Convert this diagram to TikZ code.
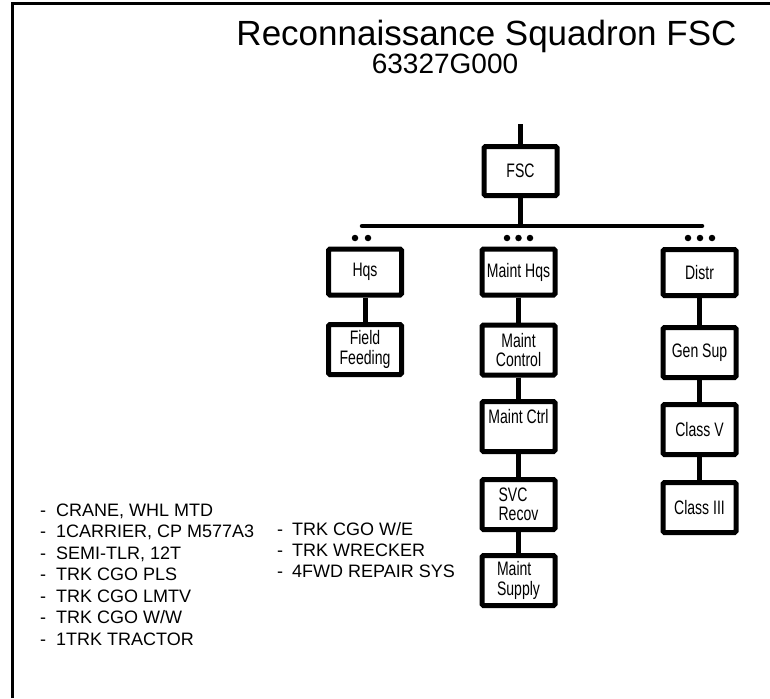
\documentclass[tikz,border=0pt]{standalone}
\usepackage{fontspec}
\setmainfont{Liberation Sans}
\newfontfamily\boxfont[FakeStretch=0.72]{Liberation Sans}
\begin{document}
\begin{tikzpicture}[x=1pt,y=-1pt,
  unit/.style={draw=black, line width=5pt, rounded corners=1.5pt,
    minimum width=73pt, minimum height=50pt, inner sep=0pt, align=center,
    font=\boxfont\fontsize{19.5}{19.5}\selectfont},
  toprow/.style={unit, minimum height=46pt},
  link/.style={line width=5pt},
  echelon/.style={circle, fill=black, minimum size=6.5pt, inner sep=0pt},
  itemtext/.style={anchor=base west, font=\fontsize{18}{21}\selectfont, inner sep=0pt}
]
\useasboundingbox (0,0) rectangle (770,698);

% page frame (top and left edges)
\draw[line width=3pt] (12.5,698) -- (12.5,3.5) -- (770,3.5);

% heading
\node[font=\fontsize{35}{40}\selectfont, anchor=base, inner sep=0pt] (title) at (486.5,46) {Reconnaissance Squadron FSC};
\node[font=\fontsize{28}{32}\selectfont, anchor=base, inner sep=0pt] (code) at (445,74) {63327G000};

% command element
\coordinate (up) at (520.5,124);
\node[unit, minimum height=49pt] (fsc) at (520.5,171) {FSC};

% distribution bar
\coordinate (barL) at (362,226);
\coordinate (barR) at (702,226);

% first-level sections
\node[toprow] (hqs) at (365,272) {Hqs};
\node[toprow] (mhq) at (518.5,272) {Maint Hqs};
\node[toprow] (distr) at (699.5,272.5) {Distr};

% echelon markers
\node[echelon] (h1) at (355,238) {};
\node[echelon] (h2) at (368,238) {};
\node[echelon] (m1) at (507,238) {};
\node[echelon] (m2) at (518.5,238) {};
\node[echelon] (m3) at (530,238) {};
\node[echelon] (d1) at (688,238) {};
\node[echelon] (d2) at (700,238) {};
\node[echelon] (d3) at (712,238) {};

% headquarters column
\node[unit] (feed) at (365,349.5) {Field\\Feeding};

% maintenance column
\node[unit] (mctl) at (518.5,350) {Maint\\Control};
\node[unit] (mctrl) at (518.5,426.5) {Maint Ctrl\\ ~};
\node[unit, align=left] (svc) at (518.5,504.5) {SVC\\Recov};
\node[unit, align=left] (msup) at (518.5,580.5) {Maint\\Supply};

% distribution column
\node[unit] (gen) at (699.5,352.5) {Gen Sup};
\node[unit] (c5) at (699.5,429.5) {Class V};
\node[unit] (c3) at (699.5,507.5) {Class III};

% connectors
\draw[link] (up) -- (fsc.north);
\draw[link] (fsc.south) -- (fsc.south |- barL);
\draw[line width=4.5pt, line cap=round] (barL) -- (barR);
\draw[link] (hqs.south) -- (feed.north);
\draw[link] (mhq.south) -- (mctl.north);
\draw[link] (mctl.south) -- (mctrl.north);
\draw[link] (mctrl.south) -- (svc.north);
\draw[link] (svc.south) -- (msup.north);
\draw[link] (distr.south) -- (gen.north);
\draw[link] (gen.south) -- (c5.north);
\draw[link] (c5.south) -- (c3.north);

% equipment lists
\foreach \t [count=\i] in {{CRANE, WHL MTD},{1CARRIER, CP M577A3},{SEMI-TLR, 12T},
    {TRK CGO PLS},{TRK CGO LMTV},{TRK CGO W/W},{1TRK TRACTOR}}
  \node[itemtext] (l\i) at (40,{516+21.5*(\i-1)}) {-\hspace{10pt}\t};
\foreach \t [count=\i] in {{TRK CGO W/E},{TRK WRECKER},{4FWD REPAIR SYS}}
  \node[itemtext] (r\i) at (277,{535+21*(\i-1)}) {-\hspace{9pt}\t};
\end{tikzpicture}
\end{document}
